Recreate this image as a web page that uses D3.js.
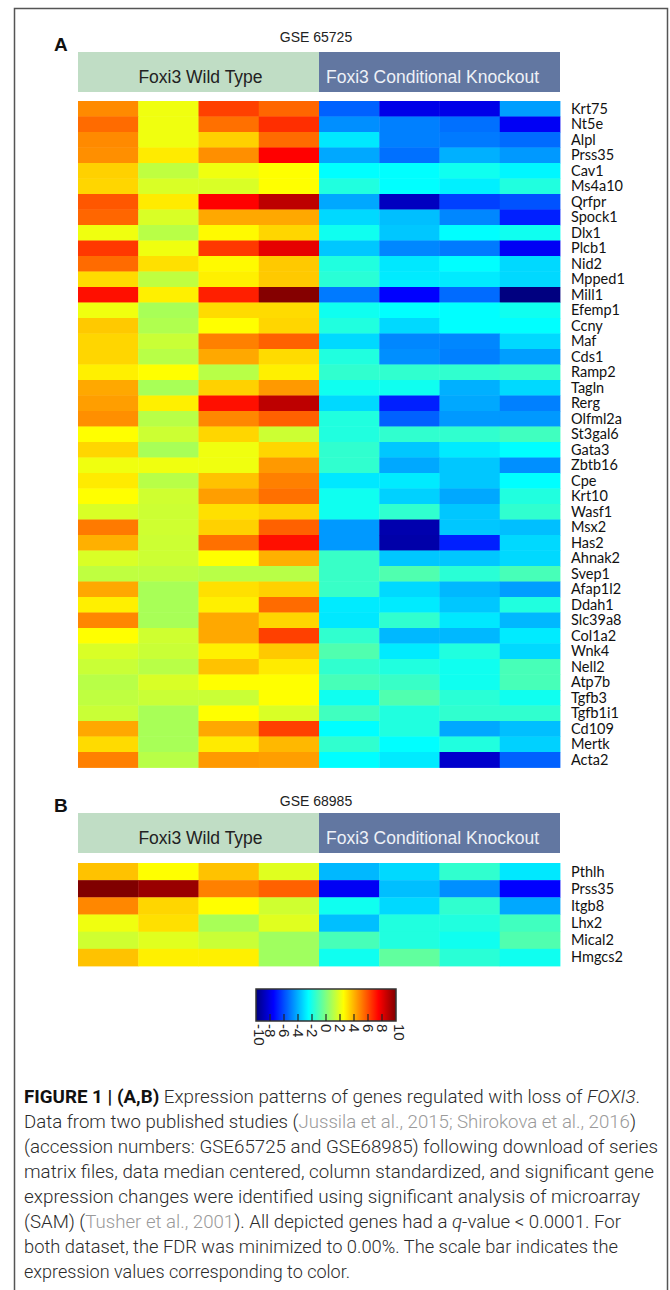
<!DOCTYPE html>
<html><head><meta charset="utf-8">
<script src="https://cdn.jsdelivr.net/npm/d3@7"></script>
<style>body{margin:0;background:#fff}svg{display:block}</style>
</head><body>
<svg id="fig" width="670" height="1290"></svg>
<script>
const samples = ["WT1","WT2","WT3","WT4","KO1","KO2","KO3","KO4"];
const groups = ["Foxi3 Wild Type","Foxi3 Conditional Knockout"];
const genesA = ["Krt75","Nt5e","Alpl","Prss35","Cav1","Ms4a10","Qrfpr","Spock1","Dlx1","Plcb1","Nid2","Mpped1","Mill1","Efemp1","Ccny","Maf","Cds1","Ramp2","Tagln","Rerg","Olfml2a","St3gal6","Gata3","Zbtb16","Cpe","Krt10","Wasf1","Msx2","Has2","Ahnak2","Svep1","Afap1l2","Ddah1","Slc39a8","Col1a2","Wnk4","Nell2","Atp7b","Tgfb3","Tgfb1i1","Cd109","Mertk","Acta2"];
const valuesA = [
[4.8,2.2,6.25,5.5,-5.6,-7.95,-7.95,-4.4],
[5.4,2.2,5.3,6.6,-4.7,-5.0,-5.3,-7.7],
[4.8,2.2,3.4,5.4,-2.95,-5.0,-5.1,-5.4],
[4.7,2.9,4.7,7.5,-4.2,-5.3,-4.05,-4.5],
[3.4,1.25,2.2,2.5,-2.5,-2.5,-2.2,-2.65],
[3.3,1.75,1.75,2.5,-1.87,-2.5,-2.8,-1.87],
[5.8,2.9,7.5,8.8,-4.2,-8.75,-6.25,-5.9],
[5.5,1.75,4.2,4.2,-3.25,-3.75,-4.85,-6.9],
[2.2,1.1,2.6,3.3,-2.2,-3.6,-2.5,-2.2],
[6.4,2.2,6.4,8.0,-3.6,-4.85,-5.1,-7.7],
[5.4,3.1,2.6,3.55,-1.87,-2.95,-2.5,-3.25],
[3.2,1.25,2.8,3.55,-1.7,-2.9,-2.9,-3.25],
[7.2,2.8,6.9,9.9,-5.1,-7.5,-5.4,-10],
[2.2,0.8,3.2,3.2,-2.2,-2.5,-2.5,-2.2],
[3.55,0.95,2.5,3.3,-1.87,-3.25,-2.5,-2.5],
[3.3,1.45,5.0,5.6,-3.25,-4.85,-4.85,-3.25],
[3.3,1.1,4.2,3.2,-1.87,-4.7,-5.0,-4.4],
[2.8,2.5,1.1,2.8,-1.55,-1.55,-1.55,-1.4],
[4.2,0.8,3.4,4.5,-2.2,-2.2,-4.05,-3.25],
[4.4,2.8,7.2,8.8,-3.25,-6.9,-4.2,-5.0],
[4.7,1.1,4.85,5.6,-1.87,-5.6,-4.5,-4.5],
[2.5,1.5,3.3,1.5,-1.87,-1.55,-1.55,-1.25],
[3.3,0.8,2.2,3.3,-1.55,-3.6,-2.9,-2.5],
[2.2,2.2,2.2,4.5,-1.55,-4.2,-3.6,-4.7],
[2.9,1.1,3.7,5.0,-2.95,-2.9,-3.6,-2.5],
[2.5,1.55,4.4,5.3,-2.2,-3.4,-4.2,-1.87],
[1.75,1.5,3.1,3.4,-2.2,-1.55,-3.6,-1.55],
[5.1,1.55,3.4,5.6,-4.5,-9.1,-3.6,-3.75],
[4.05,1.5,5.3,7.2,-4.5,-9.2,-6.9,-3.25],
[1.75,1.5,2.5,4.05,-1.4,-3.6,-3.6,-3.25],
[1.25,1.25,1.1,1.1,-1.4,-0.93,-1.7,-1.1],
[4.2,0.8,3.1,3.4,-1.4,-3.25,-3.9,-4.4],
[2.8,0.8,2.8,5.4,-2.9,-2.9,-3.6,-1.87],
[4.85,0.8,4.2,3.3,-2.95,-1.55,-2.95,-3.9],
[2.5,1.55,4.2,6.25,-1.55,-3.9,-3.9,-2.9],
[1.75,1.45,2.8,3.55,-0.93,-2.9,-1.87,-3.25],
[1.45,1.1,3.7,2.9,-1.55,-1.87,-2.2,-1.1],
[1.1,1.75,2.5,2.5,-1.1,-1.4,-2.2,-1.1],
[1.25,1.45,1.45,2.5,-2.2,-0.93,-1.7,-2.2],
[1.45,0.8,2.5,1.75,-1.25,-1.87,-1.55,-1.55],
[4.2,0.8,4.2,6.25,-2.5,-1.87,-4.2,-3.75],
[3.2,0.8,2.9,3.9,-1.55,-2.5,-1.87,-3.4],
[5.0,1.1,4.5,4.4,-2.5,-2.9,-8.5,-5.6]
];
const genesB = ["Pthlh","Prss35","Itgb8","Lhx2","Mical2","Hmgcs2"];
const valuesB = [
[3.7,2.5,3.7,1.9,-3.9,-3.25,-1.55,-2.95],
[10,9.5,5.0,5.6,-7.7,-3.75,-4.7,-7.5],
[4.85,3.3,2.5,1.55,-2.2,-3.25,-1.55,-4.2],
[2.2,3.1,0.8,1.9,-3.75,-1.87,-1.87,-1.25],
[1.55,1.9,1.45,0.64,-1.1,-1.87,-2.2,-0.93],
[3.7,2.8,2.8,0.64,-2.2,-0.6,-1.7,-2.2]
];
const colorTicks = [-10,-8,-6,-4,-2,0,2,4,6,8,10];

const svg = d3.select("#fig");
const jet = d3.scaleLinear()
  .domain([-10,-7.5,-2.5,2.5,7.5,10])
  .range(["#000080","#0000ff","#00ffff","#ffff00","#ff0000","#800000"])
  .clamp(true);

// frame
svg.append("path").attr("d","M14.5,1290 V8.5 H667.5 V1290")
  .attr("fill","none").attr("stroke","#555").attr("stroke-width",1.5);

const x = d3.scaleBand().domain(samples).range([78,560]);
const xg = d3.scaleBand().domain(groups).range([78,560]);
const groupFill = ["#c0ddc5","#6277a1"];
const groupText = ["#222","#eef1f7"];

function panel(letter, title, titleY, headTop, genes, values, top, bottom){
  svg.append("text").attr("x",54).attr("y",headTop-1).text(letter)
    .attr("font-family","Liberation Sans, Arial, sans-serif").attr("font-weight","bold")
    .attr("font-size",19).attr("fill","#111");
  svg.append("text").attr("x",316).attr("y",titleY).attr("text-anchor","middle").text(title)
    .attr("font-family","Liberation Sans, Arial, sans-serif").attr("font-size",14).attr("fill","#222");
  groups.forEach((g,i)=>{
    svg.append("rect").attr("x",xg(g)).attr("y",headTop).attr("width",xg.bandwidth()).attr("height",40).attr("fill",groupFill[i]);
    svg.append("text").attr("x",xg(g)+xg.bandwidth()/2+(i===0?2:-7)).attr("y",headTop+31)
      .attr("text-anchor","middle").text(g)
      .attr("font-family","Liberation Sans, Arial, sans-serif").attr("font-size",17.5).attr("fill",groupText[i]);
  });
  const y = d3.scaleBand().domain(genes).range([top,bottom]);
  const cells = [];
  values.forEach((row,ri)=>row.forEach((v,ci)=>cells.push({g:genes[ri],s:samples[ci],v})));
  svg.append("g").selectAll("rect").data(cells).join("rect")
    .attr("x",d=>x(d.s)).attr("y",d=>y(d.g))
    .attr("width",x.bandwidth()+0.4).attr("height",y.bandwidth()+0.4)
    .attr("fill",d=>jet(d.v));
  svg.append("g").selectAll("text").data(genes).join("text")
    .attr("x",571).attr("y",d=>y(d)+y.bandwidth()/2).attr("dy","0.35em").text(d=>d)
    .attr("font-family","Lato, Carlito, sans-serif").attr("font-size",14.5).attr("fill","#111");
}
panel("A","GSE 65725",42,52,genesA,valuesA,101,767.5);
panel("B","GSE 68985",806,813,genesB,valuesB,863,966);

// colour bar
const cx = d3.scaleLinear().domain([-10,10]).range([256,396]);
const defs = svg.append("defs");
const grad = defs.append("linearGradient").attr("id","jetgrad");
d3.range(-10,10.01,0.5).forEach(v=>grad.append("stop").attr("offset",(v+10)/20).attr("stop-color",jet(v)));
svg.append("rect").attr("x",256).attr("y",989).attr("width",140).attr("height",32)
  .attr("fill","url(#jetgrad)").attr("stroke","#333").attr("stroke-width",1.5);
const cbAxis = svg.append("g");
cbAxis.selectAll("line").data(colorTicks.filter(t=>t>-10&&t<10)).join("line")
  .attr("x1",d=>cx(d)).attr("x2",d=>cx(d)).attr("y1",1021).attr("y2",1014)
  .attr("stroke","#222").attr("stroke-width",1.2);
cbAxis.selectAll("text").data(colorTicks).join("text")
  .attr("transform",d=>`translate(${cx(d)+(d===-10?3:d===10?3:0)},1024) rotate(90)`)
  .attr("dy","0.35em").text(d=>d)
  .attr("font-family","Liberation Sans, Arial, sans-serif").attr("font-size",15).attr("fill","#222");

// caption
const capLines = [
 [[{t:"FIGURE 1 | (A,B)",b:1},{t:" Expression patterns of genes regulated with loss of "},{t:"FOXI3",i:1},{t:"."}],616],
 [[{t:"Data from two published studies ("},{t:"Jussila et al., 2015; Shirokova et al., 2016",g:1},{t:")"}],612],
 [[{t:"(accession numbers: GSE65725 and GSE68985) following download of series"}],634],
 [[{t:"matrix files, data median centered, column standardized, and significant gene"}],630],
 [[{t:"expression changes were identified using significant analysis of microarray"}],616],
 [[{t:"(SAM) ("},{t:"Tusher et al., 2001",g:1},{t:"). All depicted genes had a "},{t:"q",i:1},{t:"-value < 0.0001. For"}],597],
 [[{t:"both dataset, the FDR was minimized to 0.00%. The scale bar indicates the"}],594],
 [[{t:"expression values corresponding to color."}],326]
];
capLines.forEach(([parts,w],k)=>{
  const t = svg.append("text").attr("x",24).attr("y",1103+25*k)
    .attr("font-family","Liberation Sans Narrow, Roboto, Liberation Sans, sans-serif")
    .attr("font-size",18).attr("font-weight",300).attr("fill","#2b2b2b")
    .attr("textLength",w).attr("lengthAdjust","spacingAndGlyphs");
  parts.forEach(p=>{
    const s = t.append("tspan").text(p.t);
    if(p.b) s.attr("font-weight","bold").attr("fill","#111");
    if(p.i) s.attr("font-style","italic");
    if(p.g) s.attr("fill","#9a9a9a");
  });
});
</script>
</body></html>
